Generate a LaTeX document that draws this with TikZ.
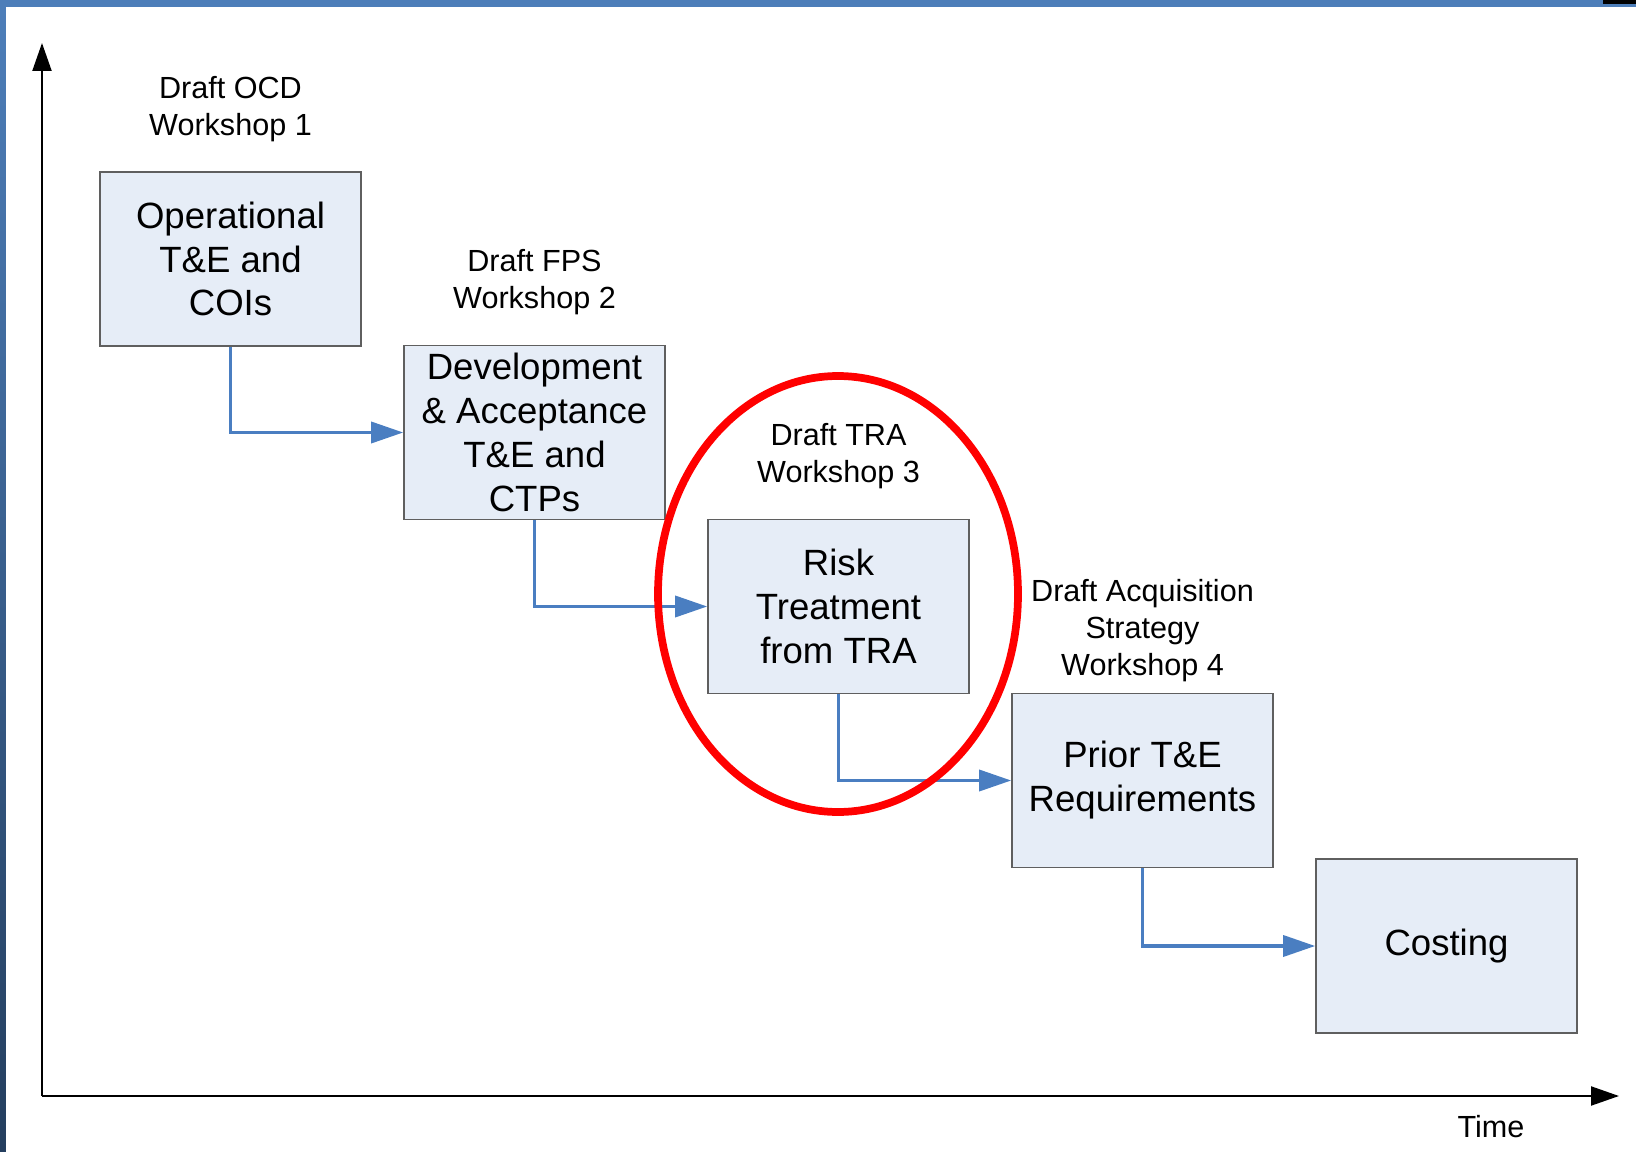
\documentclass[tikz,border=0pt]{standalone}
\usepackage{fontspec}
\setmainfont{Liberation Sans}
\usepackage{tikz}
\usetikzlibrary{arrows.meta,positioning,calc}

\definecolor{stagefill}{RGB}{230,237,247}
\definecolor{stageedge}{RGB}{95,95,95}
\definecolor{flowblue}{RGB}{74,126,193}
\definecolor{framebar}{RGB}{77,126,185}
\definecolor{framedark}{RGB}{36,62,94}

\begin{document}
\begin{tikzpicture}[
	stagebox/.style={draw=stageedge, fill=stagefill, line width=0.45pt, minimum width=2.61cm, minimum height=1.74cm, inner sep=0pt, align=center, font=\fontsize{10.4}{12.5}\selectfont},
	workshop/.style={inner sep=0pt, align=center, font=\fontsize{8.7}{10.5}\selectfont},
	flow/.style={draw=flowblue, line width=1pt, -{Triangle[length=0.32cm,width=0.21cm]}},
	axis/.style={line width=0.6pt, -{Triangle[length=0.28cm,width=0.19cm]}},
	focus/.style={draw=red, line width=2.2pt}]

	\useasboundingbox (0,0) rectangle (16.36,-11.52);

	% Frame
	\fill[framebar] (0,0) rectangle (16.36,-0.07);
	\shade[top color=framebar, bottom color=framedark] (0,-0.07) rectangle (0.06,-11.52);
	\fill[black] (16.03,0) rectangle (16.36,-0.04);

	% Axes
	\coordinate (origin) at (0.42,-10.96);
	\coordinate (top) at (0.42,-0.43);
	\coordinate (right) at (16.19,-10.96);
	\draw[axis] (origin) -- (top);
	\draw[axis] (origin) -- (right);
	\node[workshop, anchor=base] (time) at (14.91,-11.37) {Time};

	% Stages
	\node[stagebox] (ocd) at (2.305,-2.59) {Operational\\T\&E and\\COIs};
	\node[stagebox] (fps) at (5.345,-4.325) {Development\\\& Acceptance\\T\&E and\\CTPs};
	\node[stagebox] (tra) at (8.385,-6.065) {Risk\\Treatment\\from TRA};
	\node[stagebox] (acq) at (11.425,-7.805) {Prior T\&E\\Requirements};
	\node[stagebox] (cost) at (14.465,-9.46) {Costing};

	% Workshops
	\node[workshop, above=0.29cm of ocd] (ocdws) {Draft OCD\\Workshop 1};
	\node[workshop, above=0.29cm of fps] (fpsws) {Draft FPS\\Workshop 2};
	\node[workshop, above=0.29cm of tra] (traws) {Draft TRA\\Workshop 3};
	\node[workshop, above=0.10cm of acq] (acqws) {Draft Acquisition\\Strategy\\Workshop 4};

	% Flow
	\draw[flow] (ocd.south) |- (fps.west);
	\draw[flow] (fps.south) |- (tra.west);
	\draw[flow] (tra.south) |- (acq.west);
	\draw[flow] (acq.south) |- (cost.west);

	% Focus
	\draw[focus] (8.38,-5.94) ellipse [x radius=1.80, y radius=2.18];
\end{tikzpicture}
\end{document}
